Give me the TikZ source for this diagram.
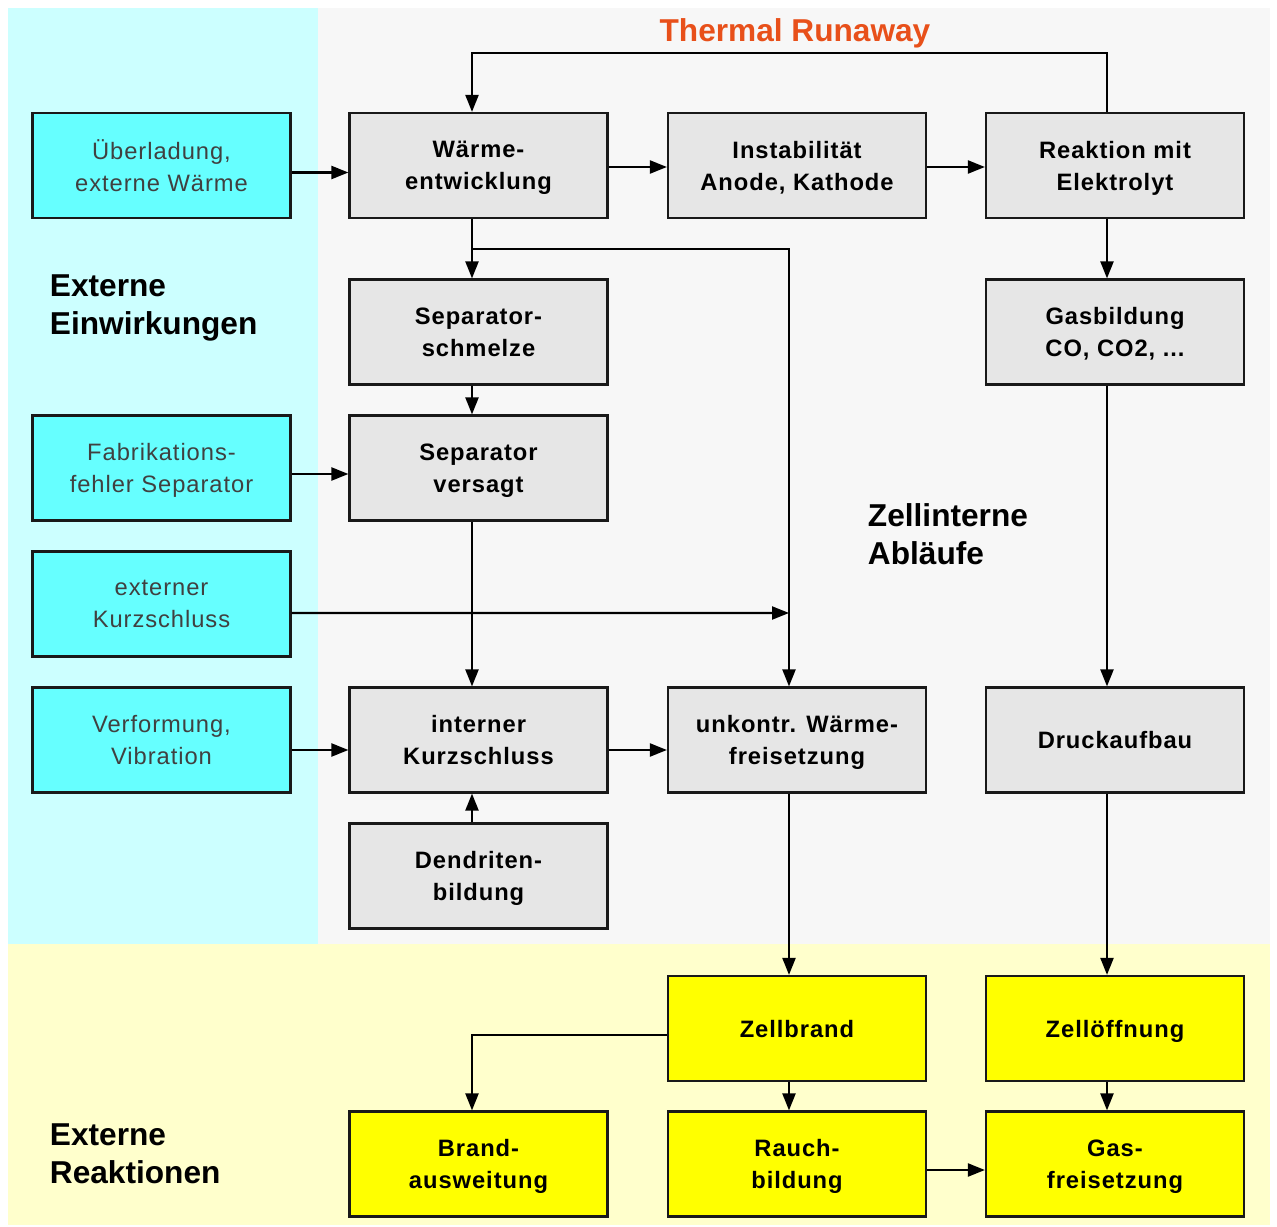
\documentclass[tikz,border=0pt]{standalone}
\usepackage{fontspec}
\setmainfont{Liberation Sans}
\newfontfamily\boxfont[LetterSpace=4]{Liberation Sans}
\usetikzlibrary{arrows.meta, positioning}

\definecolor{bgcyan}{HTML}{CCFFFF}
\definecolor{bggray}{HTML}{F7F7F7}
\definecolor{bgyellow}{HTML}{FFFFCC}
\definecolor{boxcyan}{HTML}{66FFFF}
\definecolor{boxgray}{HTML}{E6E6E6}
\definecolor{boxyellow}{HTML}{FFFF00}
\definecolor{runaway}{HTML}{E8501A}

\begin{document}
\begin{tikzpicture}[>={Triangle[length=0.34cm, width=0.26cm]}, line width=1.25pt,
    box/.style={draw=black!90, rectangle, minimum width=5.16cm, minimum height=2.1cm,
        align=center, text depth=0pt, font=\boxfont\fontsize{13.5}{18.2}\selectfont\bfseries},
    extbox/.style={box, fill=boxcyan, text=black!75, font=\boxfont\fontsize{13.5}{18.2}\selectfont},
    cellbox/.style={box, fill=boxgray},
    reacbox/.style={box, fill=boxyellow},
    heading/.style={anchor=west, align=left, font=\fontsize{18}{21.6}\selectfont\bfseries}]
    \useasboundingbox (0,0) rectangle (25.54,-24.54);

    % Hintergruende
    \fill[bgcyan] (0.16,-0.16) rectangle (6.36,-18.88);
    \fill[bggray] (6.36,-0.16) rectangle (25.4,-18.88);
    \fill[bgyellow] (0.16,-18.88) rectangle (25.4,-24.5);

    % externe Einwirkungen
    \node[extbox] (ueber) at (3.23,-3.31) {Überladung,\\externe Wärme};
    \node[extbox] (fabrik) at (3.23,-9.36) {Fabrikations-\\fehler Separator};
    \node[extbox] (extern) at (3.23,-12.08) {externer\\Kurzschluss};
    \node[extbox] (verform) at (3.23,-14.80) {Verformung,\\Vibration};

    % zellinterne Ablaeufe
    \node[cellbox] (waerme) at (9.57,-3.31) {Wärme-\\entwicklung};
    \node[cellbox] (instab) at (15.94,-3.31) {Instabilität\\Anode, Kathode};
    \node[cellbox] (reakt) at (22.30,-3.31) {Reaktion mit\\Elektrolyt};
    \node[cellbox] (schmelze) at (9.57,-6.64) {Separator-\\schmelze};
    \node[cellbox] (gasbild) at (22.30,-6.64) {Gasbildung\\CO, CO2, ...};
    \node[cellbox] (versagt) at (9.57,-9.36) {Separator\\versagt};
    \node[cellbox] (intern) at (9.57,-14.80) {interner\\Kurzschluss};
    \node[cellbox] (unkontr) at (15.94,-14.80) {unkontr. Wärme-\\freisetzung};
    \node[cellbox] (druck) at (22.30,-14.80) {Druckaufbau};
    \node[cellbox] (dendrit) at (9.57,-17.52) {Dendriten-\\bildung};

    % externe Reaktionen
    \node[reacbox] (zellbrand) at (15.94,-20.57) {Zellbrand};
    \node[reacbox] (zelloeff) at (22.30,-20.57) {Zellöffnung};
    \node[reacbox] (brand) at (9.57,-23.28) {Brand-\\ausweitung};
    \node[reacbox] (rauch) at (15.94,-23.28) {Rauch-\\bildung};
    \node[reacbox] (gasfrei) at (22.30,-23.28) {Gas-\\freisetzung};

    % Beschriftungen
    \node[font=\fontsize{18}{21.6}\selectfont\bfseries, text=runaway] (title) at (15.9,-0.66) {Thermal Runaway};
    \node[heading] (lblext) at (0.86,-6.16) {Externe\\Einwirkungen};
    \node[heading] (lblint) at (17.22,-10.68) {Zellinterne\\Abläufe};
    \node[heading] (lblreak) at (0.86,-23.08) {Externe\\Reaktionen};

    \coordinate (loop) at (9.44,-1.06);
    \coordinate (split) at (9.44,-4.98);
    \coordinate (ksjoin) at (15.78,-12.26);

    % Verbindungen
    \draw[->] ([yshift=-0.14cm]ueber.east) -- ([yshift=-0.14cm]waerme.west);
    \draw[->] ([yshift=-0.03cm]waerme.east) -- ([yshift=-0.03cm]instab.west);
    \draw[->] ([yshift=-0.03cm]instab.east) -- ([yshift=-0.03cm]reakt.west);
    \draw[->] ([xshift=-0.16cm]reakt.north) |- (loop) -- ([xshift=-0.13cm]waerme.north);
    \draw[->] ([xshift=-0.13cm]waerme.south) -- ([xshift=-0.13cm]schmelze.north);
    \draw[->] (split) -| ([xshift=-0.16cm]unkontr.north);
    \draw[->] ([xshift=-0.13cm]schmelze.south) -- ([xshift=-0.13cm]versagt.north);
    \draw[->] ([yshift=-0.12cm]fabrik.east) -- ([yshift=-0.12cm]versagt.west);
    \draw[->] ([xshift=-0.13cm]versagt.south) -- ([xshift=-0.13cm]intern.north);
    \draw[->] ([yshift=-0.18cm]extern.east) -- (ksjoin);
    \draw[->] ([yshift=-0.2cm]verform.east) -- ([yshift=-0.2cm]intern.west);
    \draw[->] ([xshift=-0.13cm]dendrit.north) -- ([xshift=-0.13cm]intern.south);
    \draw[->] ([yshift=-0.2cm]intern.east) -- ([yshift=-0.2cm]unkontr.west);
    \draw[->] ([xshift=-0.16cm]reakt.south) -- ([xshift=-0.16cm]gasbild.north);
    \draw[->] ([xshift=-0.16cm]gasbild.south) -- ([xshift=-0.16cm]druck.north);
    \draw[->] ([xshift=-0.16cm]unkontr.south) -- ([xshift=-0.16cm]zellbrand.north);
    \draw[->] ([xshift=-0.16cm]druck.south) -- ([xshift=-0.16cm]zelloeff.north);
    \draw[->] ([yshift=-0.13cm]zellbrand.west) -| ([xshift=-0.13cm]brand.north);
    \draw[->] ([xshift=-0.16cm]zellbrand.south) -- ([xshift=-0.16cm]rauch.north);
    \draw[->] ([xshift=-0.16cm]zelloeff.south) -- ([xshift=-0.16cm]gasfrei.north);
    \draw[->] ([yshift=-0.12cm]rauch.east) -- ([yshift=-0.12cm]gasfrei.west);
\end{tikzpicture}
\end{document}
